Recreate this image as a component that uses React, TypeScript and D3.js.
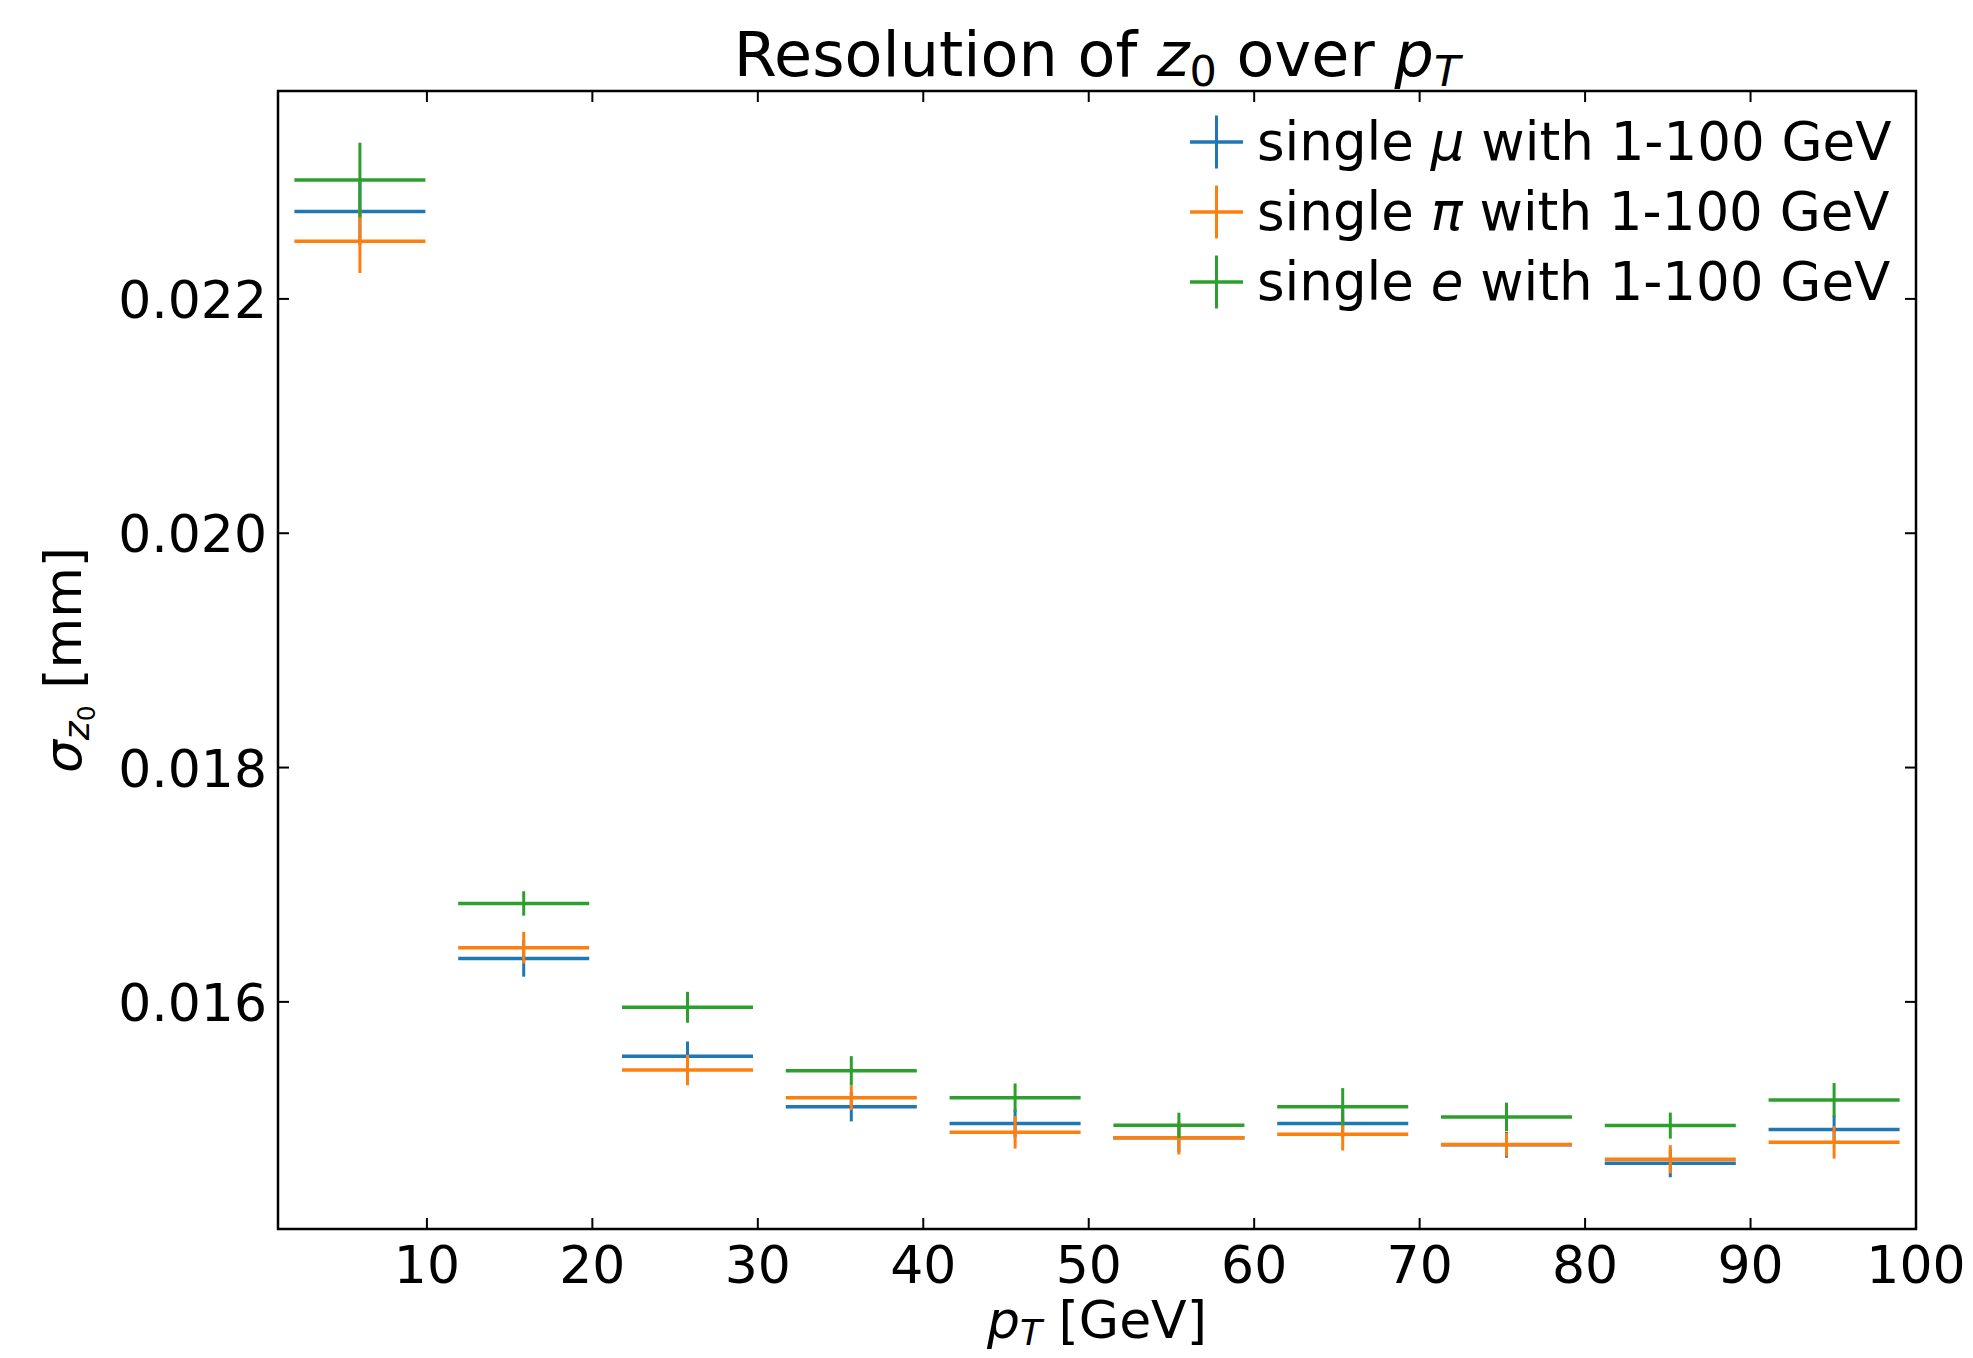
import * as d3 from "d3";

// bin centres in pT [GeV] and the half width of each bin
const ptCenters = [5.95, 15.85, 25.75, 35.65, 45.55, 55.45, 65.35, 75.25, 85.15, 95.05];
const ptHalfWidth = [3.96, 3.96, 3.96, 3.96, 3.96, 3.96, 3.96, 3.96, 3.96, 3.96];

// sigma(z0) [mm] and its uncertainty, per particle type
const muonRes = [0.022745, 0.016371, 0.015537, 0.015105, 0.014963, 0.01484, 0.014963, 0.01478, 0.014623, 0.01491];
const muonErr = [0.00028, 0.000156, 0.000125, 0.000125, 0.00012, 0.00012, 0.00012, 0.00011, 0.00012, 0.00012];

const pionRes = [0.022493, 0.016462, 0.015418, 0.015182, 0.014887, 0.01484, 0.01487, 0.014782, 0.014657, 0.014801];
const pionErr = [0.000272, 0.000136, 0.00013, 0.000105, 0.000139, 0.000142, 0.000139, 0.0001, 0.00012, 0.000139];

const elecRes = [0.023015, 0.01684, 0.015954, 0.015412, 0.015182, 0.014946, 0.015105, 0.015018, 0.014944, 0.015162];
const elecErr = [0.000318, 0.000104, 0.000132, 0.000125, 0.000122, 0.000108, 0.000159, 0.000122, 0.000111, 0.000145];

const xTicks = [10, 20, 30, 40, 50, 60, 70, 80, 90, 100];
const yTicks = [0.016, 0.018, 0.02, 0.022];

const series = [
    { key: "mu", symbol: "μ", color: "#1f77b4", res: muonRes, err: muonErr },
    { key: "pi", symbol: "π", color: "#ff7f0e", res: pionRes, err: pionErr },
    { key: "e", symbol: "e", color: "#2ca02c", res: elecRes, err: elecErr },
];

const W = 1973, H = 1358;
const margin = { left: 278, right: 57, top: 91, bottom: 129 };
const FONT = "DejaVu Sans, Liberation Sans, sans-serif";
const FS = 52;
const TICK = 11;

export default function App() {
    const innerW = W - margin.left - margin.right;
    const innerH = H - margin.top - margin.bottom;

    // matplotlib-like 5% margins on y, fixed x limits
    const lows = series.flatMap(s => s.res.map((v, i) => v - s.err[i]));
    const highs = series.flatMap(s => s.res.map((v, i) => v + s.err[i]));
    const lo = d3.min(lows), hi = d3.max(highs);
    const pad = (hi - lo) * 0.05;

    const x = d3.scaleLinear().domain([1, 100]).range([margin.left, margin.left + innerW]);
    const y = d3.scaleLinear().domain([lo - pad, hi + pad]).range([margin.top + innerH, margin.top]);
    const fmt = d3.format(".3f");

    const x0 = margin.left, x1 = margin.left + innerW;
    const y0 = margin.top, y1 = margin.top + innerH;
    const cx = (x0 + x1) / 2, cy = (y0 + y1) / 2;

    return (
        <div style={{ position: "absolute", left: 0, top: 0 }}>
            <svg width={W} height={H} style={{ display: "block", background: "white" }} fontFamily={FONT}>
                {/* error bars */}
                {series.map(s => (
                    <g key={s.key} stroke={s.color} strokeWidth={3.5}>
                        {ptCenters.map((pt, i) => (
                            <g key={i}>
                                <line x1={x(pt - ptHalfWidth[i])} x2={x(pt + ptHalfWidth[i])}
                                      y1={y(s.res[i])} y2={y(s.res[i])} />
                                <line x1={x(pt)} x2={x(pt)}
                                      y1={y(s.res[i] - s.err[i])} y2={y(s.res[i] + s.err[i])} strokeWidth={3} />
                            </g>
                        ))}
                    </g>
                ))}

                {/* ticks, inward on all four sides */}
                <g stroke="black" strokeWidth={2}>
                    {xTicks.map(t => (
                        <g key={t}>
                            <line x1={x(t)} x2={x(t)} y1={y1} y2={y1 - TICK} />
                            <line x1={x(t)} x2={x(t)} y1={y0} y2={y0 + TICK} />
                        </g>
                    ))}
                    {yTicks.map(t => (
                        <g key={t}>
                            <line x1={x0} x2={x0 + TICK} y1={y(t)} y2={y(t)} />
                            <line x1={x1} x2={x1 - TICK} y1={y(t)} y2={y(t)} />
                        </g>
                    ))}
                </g>

                <rect x={x0} y={y0} width={innerW} height={innerH} fill="none" stroke="black" strokeWidth={2.5} />

                {/* tick labels */}
                <g fontSize={FS} fill="black">
                    {xTicks.map(t => (
                        <text key={t} x={x(t)} y={y1 + 54} textAnchor="middle">{t}</text>
                    ))}
                    {yTicks.map(t => (
                        <text key={t} x={x0 - 11} y={y(t) + 19} textAnchor="end">{fmt(t)}</text>
                    ))}
                </g>

                {/* title */}
                <text x={cx} y={76} textAnchor="middle" fontSize={62}>
                    Resolution of <tspan fontStyle="italic">z</tspan>
                    <tspan fontSize={43} dy={10}>0</tspan>
                    <tspan dy={-10}> over </tspan>
                    <tspan fontStyle="italic">p</tspan>
                    <tspan fontStyle="italic" fontSize={43} dy={10}>T</tspan>
                </text>

                {/* x label */}
                <text x={cx} y={1338} textAnchor="middle" fontSize={FS}>
                    <tspan fontStyle="italic">p</tspan>
                    <tspan fontStyle="italic" fontSize={36} dy={7}>T</tspan>
                    <tspan dy={-7}> [GeV]</tspan>
                </text>

                {/* y label */}
                <text transform={`translate(81,${cy}) rotate(-90)`} textAnchor="middle" fontSize={FS}>
                    <tspan fontStyle="italic">σ</tspan>
                    <tspan fontStyle="italic" fontSize={36} dy={8}>z</tspan>
                    <tspan fontSize={25} dy={6}>0</tspan>
                    <tspan dy={-14}> [mm]</tspan>
                </text>

                {/* legend */}
                {series.map((s, i) => {
                    const ly = 142 + i * 70;
                    return (
                        <g key={s.key}>
                            <line x1={1190} x2={1243} y1={ly} y2={ly} stroke={s.color} strokeWidth={3.5} />
                            <line x1={1216.5} x2={1216.5} y1={ly - 26.5} y2={ly + 26.5} stroke={s.color} strokeWidth={3} />
                            <text x={1257} y={ly + 18} fontSize={53}>
                                single <tspan fontStyle="italic">{s.symbol}</tspan> with 1-100 GeV
                            </text>
                        </g>
                    );
                })}
            </svg>
        </div>
    );
}
